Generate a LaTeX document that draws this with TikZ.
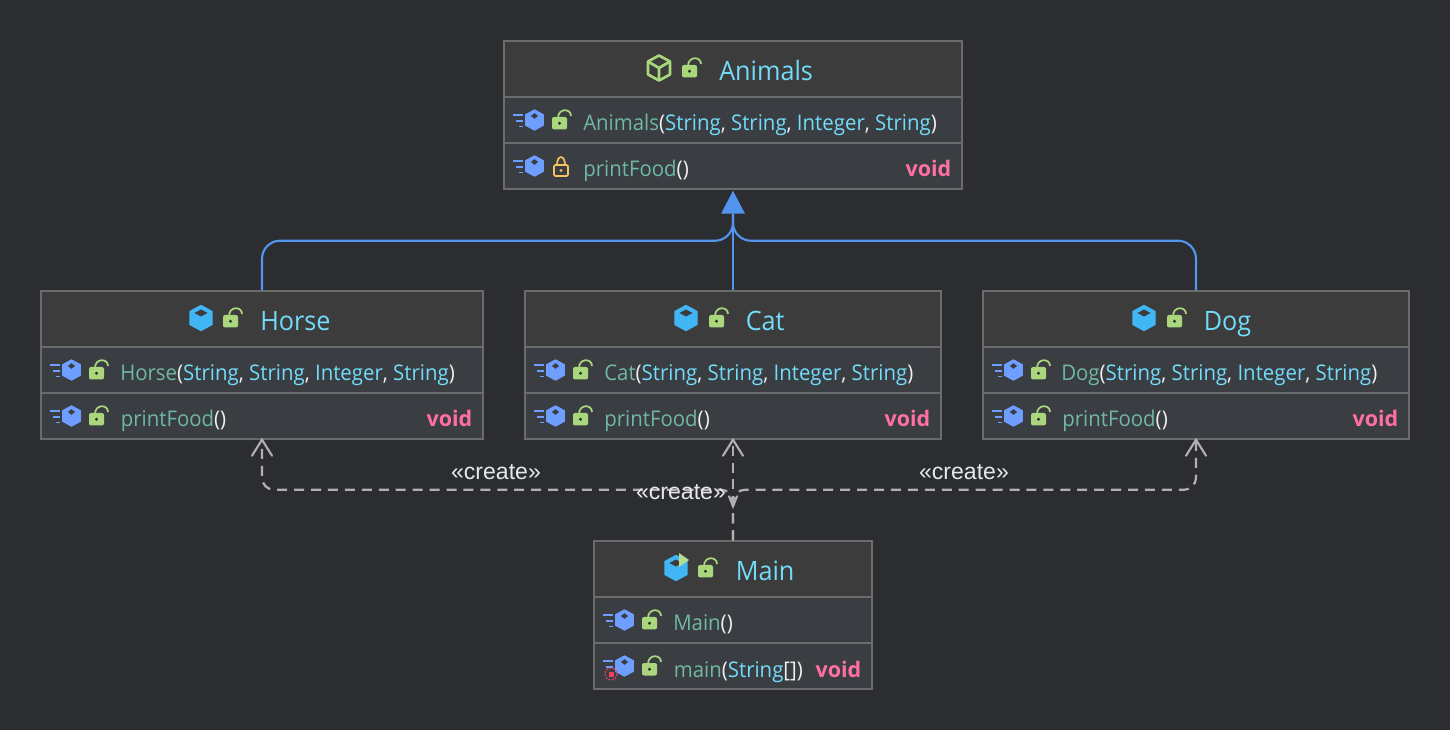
\documentclass[tikz,border=0pt]{standalone}
\usepackage{fontspec}
\setmainfont[FakeStretch=0.945]{Open Sans}
\newfontfamily\voidfont{Open Sans}
\newfontfamily\lblfont{Liberation Sans}
\usetikzlibrary{calc}
\definecolor{bgc}{HTML}{2B2D30}
\definecolor{headc}{HTML}{3C3C3C}
\definecolor{rowc}{HTML}{3A3D41}
\definecolor{edgec}{HTML}{6B6B6B}
\definecolor{titlec}{HTML}{72DCFA}
\definecolor{namec}{HTML}{70B8A6}
\definecolor{typec}{HTML}{72DCFA}
\definecolor{punctc}{HTML}{F0F0F0}
\definecolor{voidc}{HTML}{FF6F9F}
\definecolor{hexc}{HTML}{40B6F5}
\definecolor{rowhexc}{HTML}{6E9EFF}
\definecolor{lockc}{HTML}{AAD67C}
\definecolor{goldc}{HTML}{F2C55C}
\definecolor{inhc}{HTML}{5394EC}
\definecolor{depc}{HTML}{B0B0B0}
\definecolor{lblc}{HTML}{E6E8EC}
\definecolor{redc}{HTML}{F2405A}
\tikzset{
  x=.75pt,y=-.75pt,
  classnode/.style={draw=edgec,fill=rowc,line width=1.1pt,inner sep=0pt,rectangle},
  titletext/.style={inner sep=0pt,anchor=base west,text=titlec,font=\fontsize{20}{24}\selectfont},
  membertext/.style={inner sep=0pt,anchor=base west,text=namec,font=\fontsize{16.2}{20}\selectfont},
  voidtext/.style={inner sep=0pt,anchor=base east,text=voidc,font=\voidfont\fontsize{16.1}{20}\selectfont\bfseries},
  createtext/.style={inner sep=0pt,text=lblc,font=\lblfont\fontsize{17.3}{20}\selectfont},
  inhline/.style={draw=inhc,line width=1.6pt,rounded corners=13.5pt},
  depline/.style={draw=depc,line width=1.7pt,dash pattern=on 7.5pt off 5.2pt,rounded corners=9pt},
  opentip/.style={draw=depc,line width=1.6pt,line cap=round,line join=miter},
}
\newcommand{\Pu}[1]{\textcolor{punctc}{#1}}
\newcommand{\Ty}[1]{\textcolor{typec}{#1}}
\newcommand{\argsl}{\Pu{(}\Ty{String}\Pu{,} \Ty{String}\Pu{,} \Ty{Integer}\Pu{,} \Ty{String}\Pu{)}}
% hexagon: centre, scale, colour, notch colour, notch half width
\newcommand{\hexi}[5]{%
  \begin{scope}[shift={(#1)},scale=#2]
    \fill[#3,draw=#3,line width=1pt,line join=round] (0,-12.5) -- (11,-6.5) -- (11,6.5) -- (0,12.5) -- (-11,6.5) -- (-11,-6.5) -- cycle;
    \fill[#4] (0,-8.5) -- (#5,-5) -- (0,-1.5) -- (-#5,-5) -- cycle;
  \end{scope}}
\newcommand{\speed}[1]{%
  \begin{scope}[shift={(#1)}]
    \draw[rowhexc,line width=1.4pt] (-21.5,-5) -- (-11.5,-5) (-18.5,1) -- (-11.5,1) (-15.5,6.5) -- (-11.5,6.5);
  \end{scope}}
% open lock with top-left of the body given
\newcommand{\lockopen}[1]{%
  \begin{scope}[shift={(#1)}]
    \draw[lockc,line width=1.3pt] (6,1) .. controls (6,-9) and (19,-9) .. (19,-1);
    \fill[lockc,rounded corners=1.5pt] (0,0) rectangle (15,12.5);
    \fill[rowc!70!black] (7.5,6.2) circle (1.6);
  \end{scope}}
\newcommand{\lockshut}[1]{%
  \begin{scope}[shift={(#1)}]
    \draw[goldc,line width=1.3pt] (3,0) .. controls (3,-10.5) and (11,-10.5) .. (11,0);
    \draw[goldc,line width=1.3pt,rounded corners=1pt] (0,0) rectangle (14,11);
    \fill[goldc] (7,5.5) circle (1.6);
  \end{scope}}
% name, x0, x1, top, header icon x, header lock x
\newcommand{\classbox}[6]{%
  \node[classnode,minimum width={(#3-#2)*.75pt},minimum height=111pt] (#1) at ({(#2+#3)/2},{#4+74}) {};
  \fill[headc] (#2+1,#4+1) rectangle (#3-1,#4+56);
  \draw[edgec,line width=1.1pt] (#2,#4+56) -- (#3,#4+56) (#2,#4+102) -- (#3,#4+102);
  \lockopen{#6,#4+24}
  \hexi{#2+30.5,#4+79}{.8}{rowhexc}{rowc}{4.5}\speed{#2+30.5,#4+79}
  \hexi{#2+30.5,#4+125}{.8}{rowhexc}{rowc}{4.5}\speed{#2+30.5,#4+125}
  \lockopen{#2+48,#4+76}
  \lockopen{#2+48,#4+122}}
\begin{document}
\begin{tikzpicture}
\fill[bgc] (0,0) rectangle (1450,730);
\useasboundingbox (0,0) rectangle (1450,730);

\classbox{Animals}{504}{962}{41}{659}{682}
\classbox{Horse}{41}{483}{291}{201}{223}
\classbox{Cat}{525}{941}{291}{686}{709}
\classbox{Dog}{983}{1409}{291}{1144}{1167}
\classbox{Main}{594}{872}{541}{676}{698}

% Animals: outlined cube and gold lock on printFood
\begin{scope}[shift={(659,68)}]
  \draw[lockc,line width=2pt,line join=round] (0,-12.5) -- (11,-6.5) -- (11,6.5) -- (0,12.5) -- (-11,6.5) -- (-11,-6.5) -- cycle;
  \draw[lockc,line width=2pt,line join=round] (-11,-6.5) -- (0,0) -- (11,-6.5) (0,0) -- (0,12.5);
\end{scope}
\fill[rowc] (550,155) rectangle (573,178);
\lockshut{554,165}
\hexi{201,318}{1}{hexc}{headc}{6.5}
\hexi{686,318}{1}{hexc}{headc}{6.5}
\hexi{1144,318}{1}{hexc}{headc}{6.5}
\hexi{676,568}{1}{hexc}{headc}{6.5}
\fill[lockc!85!white] (679,553) -- (689,560) -- (679,567) -- cycle;
\draw[redc,line width=.8pt,dash pattern=on 1.5pt off 1pt] (611,674) circle (6);
\fill[redc] (608.5,671.5) rectangle (613.5,676.5);

% Texts
\node[titletext] (Animals-title) at (719,81) {Animals};
\node[membertext] (Animals-m1) at (583,131) {Animals\argsl};
\node[membertext] (Animals-m2) at (583,177) {printFood\Pu{()}};
\node[voidtext] (Animals-v) at (951.5,177) {void};

\node[titletext] (Horse-title) at (260,331) {Horse};
\node[membertext] (Horse-m1) at (120,381) {Horse\argsl};
\node[membertext] (Horse-m2) at (120.5,427) {printFood\Pu{()}};
\node[voidtext] (Horse-v) at (472.5,427) {void};

\node[titletext] (Cat-title) at (745.5,331) {Cat};
\node[membertext] (Cat-m1) at (604,381) {Cat\argsl};
\node[membertext] (Cat-m2) at (604,427) {printFood\Pu{()}};
\node[voidtext] (Cat-v) at (930.5,427) {void};

\node[titletext] (Dog-title) at (1203.5,331) {Dog};
\node[membertext] (Dog-m1) at (1061,381) {Dog\argsl};
\node[membertext] (Dog-m2) at (1062,427) {printFood\Pu{()}};
\node[voidtext] (Dog-v) at (1398.5,427) {void};

\node[titletext] (Main-title) at (735.5,581) {Main};
\node[membertext] (Main-m1) at (673,631) {Main\Pu{()}};
\node[membertext] (Main-m2) at (673.5,677) {main\Pu{(}\Ty{String}\Pu{[]}\Pu{)}};
\node[voidtext] (Main-v) at (861.5,677) {void};

% Inheritance
\coordinate (Base) at ($(Animals.south)+(0,24)$);
\coordinate (Bus) at ($(Animals.south)+(0,51)$);
\draw[inhline] (Horse.north) |- (Bus) -- (Base);
\draw[inhline] (Dog.north) |- (Bus) -- (Base);
\draw[inhline] (Cat.north) -- (Base);
\fill[inhc] ($(Animals.south)+(0,1)$) -- ($(Base)+(12,0)$) -- ($(Base)+(-12,0)$) -- cycle;

% Dependencies
\coordinate (DepBus) at ($(Main.north)+(0,-50.5)$);
\draw[depline] (Main.north) -- (DepBus) -| (Horse.south);
\draw[depline] (Main.north) -- (DepBus) -| (Dog.south);
\draw[depline] (Main.north) -- (Cat.south);
\draw[opentip] ($(Horse.south)+(-10,16)$) -- (Horse.south) -- ($(Horse.south)+(10,16)$);
\draw[opentip] ($(Cat.south)+(-10,16)$) -- (Cat.south) -- ($(Cat.south)+(10,16)$);
\draw[opentip] ($(Dog.south)+(-10,16)$) -- (Dog.south) -- ($(Dog.south)+(10,16)$);
\draw[opentip] ($(Main.north)+(-4,-44)$) -- ($(Main.north)+(0,-34)$) -- ($(Main.north)+(4,-44)$);

\node[createtext] (lblHorse) at (496,472) {«create»};
\node[createtext] (lblCat) at (681,492) {«create»};
\node[createtext] (lblDog) at (964,472) {«create»};
\end{tikzpicture}
\end{document}
